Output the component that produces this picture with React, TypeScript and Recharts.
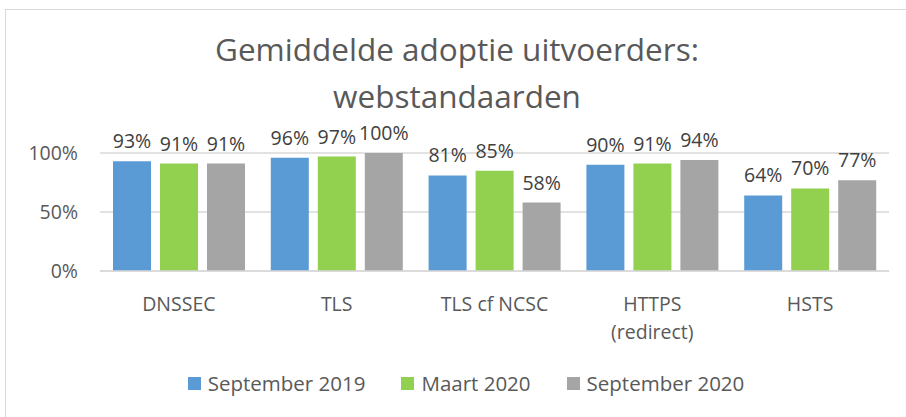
import { BarChart, Bar, XAxis, YAxis, CartesianGrid, LabelList, Legend } from "recharts";

const categories = ["DNSSEC", "TLS", "TLS cf NCSC", "HTTPS\n(redirect)", "HSTS"];
const sep2019 = [93, 96, 81, 90, 64];
const mrt2020 = [91, 97, 85, 91, 70];
const sep2020 = [91, 100, 58, 94, 77];
const yTicks = [0, 50, 100];
const titleLines = ["Gemiddelde adoptie uitvoerders:", "webstandaarden"];

const series = [
  { key: "sep2019", name: "September 2019", color: "#5B9BD5" },
  { key: "mrt2020", name: "Maart 2020", color: "#92D050" },
  { key: "sep2020", name: "September 2020", color: "#A5A5A5" },
];

const data = categories.map((c, i) => ({
  name: c,
  sep2019: sep2019[i],
  mrt2020: mrt2020[i],
  sep2020: sep2020[i],
}));

const FONT = "'Open Sans', 'Noto Sans', sans-serif";

function CategoryTick(props: any) {
  const { x, y, payload } = props;
  const lines = String(payload.value).split("\n");
  return (
    <text x={x} y={y + 32} textAnchor="middle" fill="#595959" fontSize={19.5} fontFamily={FONT}>
      {lines.map((l, i) => (
        <tspan key={i} x={x} dy={i === 0 ? 0 : 28}>
          {l}
        </tspan>
      ))}
    </text>
  );
}

function LegendContent() {
  return (
    <div style={{ display: "flex", justifyContent: "center", fontFamily: FONT, fontSize: 20.5, color: "#595959" }}>
      {series.map((s) => (
        <div key={s.key} style={{ display: "flex", alignItems: "center", margin: "0 18px" }}>
          <span style={{ width: 13, height: 13, background: s.color, marginRight: 7, display: "inline-block" }} />
          {s.name}
        </div>
      ))}
    </div>
  );
}

export default function App() {
  return (
    <div style={{ position: "relative", width: 906, height: 417, overflow: "hidden", background: "#fff" }}>
      <style>{"body{margin:0}"}</style>
      <div
        style={{
          position: "absolute",
          left: 5,
          top: 9,
          width: 920,
          height: 430,
          border: "1px solid #d9d9d9",
        }}
      />
      {titleLines.map((t, i) => (
        <div
          key={i}
          style={{
            position: "absolute",
            left: 4,
            top: 33 + i * 47,
            width: 906,
            textAlign: "center",
            fontFamily: FONT,
            fontSize: 31.5,
            lineHeight: "32px",
            color: "#595959",
          }}
        >
          {t}
        </div>
      ))}
      <div style={{ position: "absolute", left: 0, top: 0 }}>
        <BarChart
          width={906}
          height={417}
          data={data}
          margin={{ top: 153, right: 17, bottom: 116, left: 0 }}
          barGap={9}
          barSize={38}
        >
          <CartesianGrid vertical={false} stroke="#d9d9d9" strokeWidth={1.5} />
          <XAxis
            dataKey="name"
            tick={<CategoryTick />}
            tickLine={false}
            axisLine={{ stroke: "#d9d9d9", strokeWidth: 1.5 }}
            interval={0}
          />
          <YAxis
            domain={[0, 100]}
            ticks={yTicks}
            width={100}
            tickLine={false}
            axisLine={false}
            tickMargin={16}
            tickFormatter={(v) => `${v}%`}
            tick={{ fill: "#595959", fontSize: 19.5, fontFamily: FONT }}
          />
          <Legend
            verticalAlign="middle"
            align="center"
            content={<LegendContent />}
            wrapperStyle={{ top: 369, left: 13, width: 906 }}
          />
          {series.map((s) => (
            <Bar key={s.key} dataKey={s.key} name={s.name} fill={s.color} isAnimationActive={false}>
              <LabelList
                dataKey={s.key}
                position="top"
                offset={13}
                formatter={(v: any) => `${v}%`}
                style={{ fill: "#404040", fontSize: 19.5, fontFamily: FONT }}
              />
            </Bar>
          ))}
        </BarChart>
      </div>
    </div>
  );
}
